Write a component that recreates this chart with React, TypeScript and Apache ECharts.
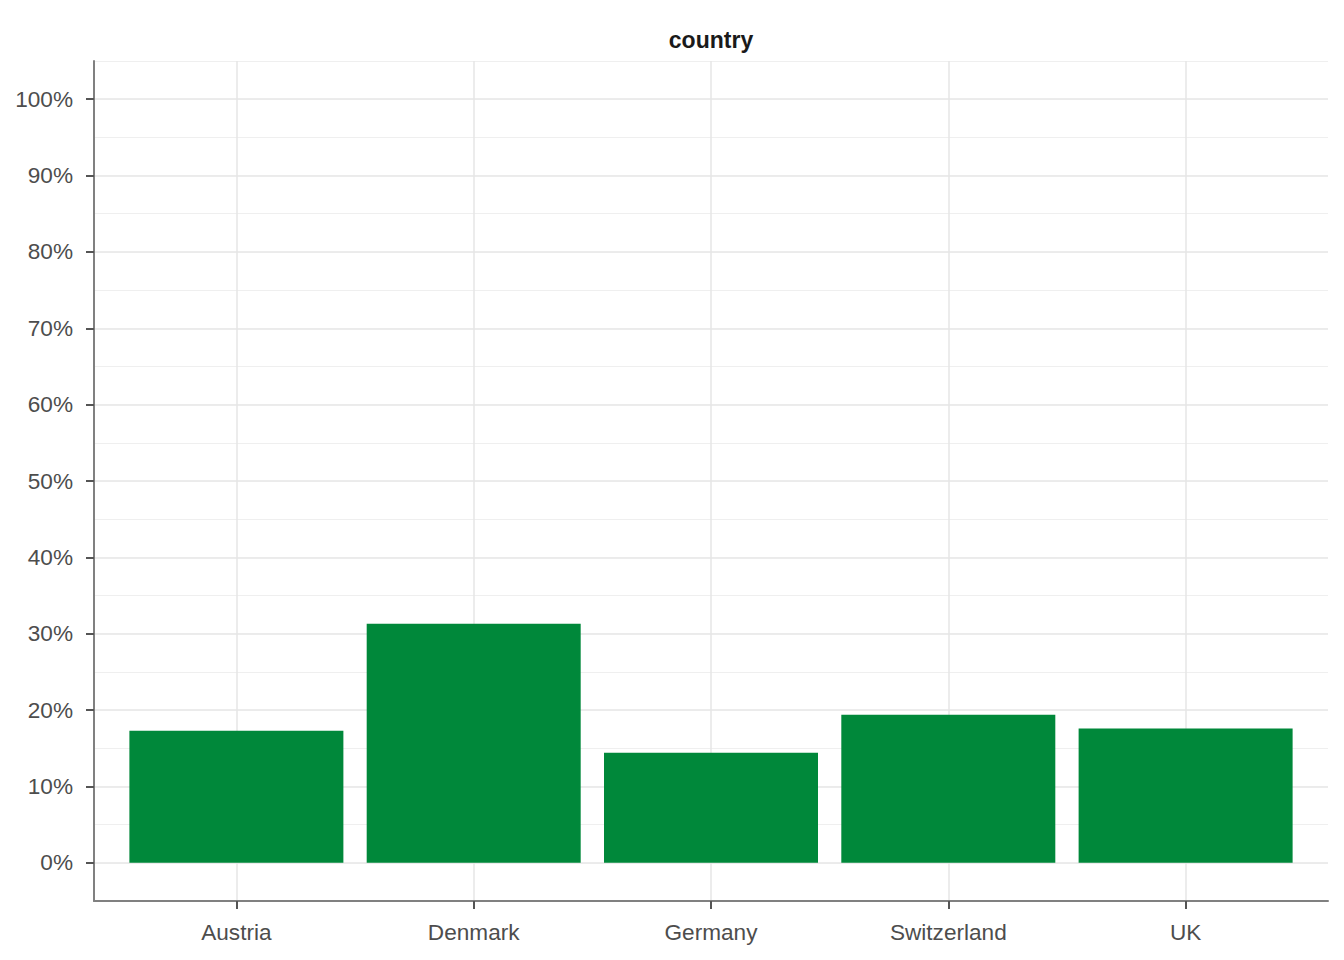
import React, { useEffect, useRef } from "react";
import * as echarts from "echarts";

const categories = ["Austria", "Denmark", "Germany", "Switzerland", "UK"];
const shares = [17.3, 31.3, 14.4, 19.4, 17.6];
const yTicks = [0, 10, 20, 30, 40, 50, 60, 70, 80, 90, 100];
const xPositions = [1, 2, 3, 4, 5];
const title = "country";

export default function App() {
  const ref = useRef<HTMLDivElement>(null);
  useEffect(() => {
    if (!ref.current) return;
    const chart = echarts.init(ref.current, undefined, { renderer: "svg" });
    const font = "'Liberation Sans', Arial, sans-serif";
    chart.setOption({
      animation: false,
      backgroundColor: "#ffffff",
      graphic: [
        {
          type: "text",
          x: 711,
          y: 40,
          style: {
            text: title,
            font: `bold 23px ${font}`,
            fill: "#1A1A1A",
            textAlign: "center",
            textVerticalAlign: "middle",
          },
        },
      ],
      grid: { left: 94, top: 61, width: 1234, height: 840, containLabel: false },
      xAxis: {
        type: "value",
        min: 0.4,
        max: 5.6,
        axisLine: { show: true, onZero: false, lineStyle: { color: "#808080", width: 2 } },
        axisTick: {
          show: true,
          customValues: xPositions,
          length: 8,
          lineStyle: { color: "#555555", width: 2 },
        },
        axisLabel: {
          customValues: xPositions,
          formatter: (v: number) => categories[Math.round(v) - 1] ?? "",
          color: "#4D4D4D",
          fontFamily: font,
          fontSize: 22.6,
          margin: 20,
        },
        splitLine: { show: true, lineStyle: { color: "#E6E6E6", width: 1.5 } },
      },
      yAxis: [
        {
          type: "value",
          min: -5,
          max: 105,
          axisLine: { show: true, onZero: false, lineStyle: { color: "#808080", width: 2 } },
          axisTick: {
            show: true,
            customValues: yTicks,
            length: 8,
            lineStyle: { color: "#555555", width: 2 },
          },
          axisLabel: {
            customValues: yTicks,
            formatter: (v: number) => `${v}%`,
            color: "#4D4D4D",
            fontFamily: font,
            fontSize: 22.6,
            margin: 21,
            padding: [4, 0, 0, 0],
          },
          splitLine: { show: true, lineStyle: { color: "#E6E6E6", width: 1.5 } },
        },
        {
          type: "value",
          min: -5,
          max: 105,
          interval: 5,
          axisLine: { show: false },
          axisTick: { show: false },
          axisLabel: { show: false },
          splitLine: { show: true, lineStyle: { color: "#EBEBEB", width: 0.8 } },
        },
      ],
      series: [
        {
          type: "bar",
          xAxisIndex: 0,
          yAxisIndex: 0,
          barWidth: 214,
          itemStyle: { color: "#00883A" },
          data: shares.map((v, i) => [xPositions[i], v]),
          z: 5,
        },
      ],
    });
    return () => chart.dispose();
  }, []);
  return (
    <div
      ref={ref}
      style={{ position: "fixed", left: 0, top: 0, width: 1344, height: 960 }}
    />
  );
}
